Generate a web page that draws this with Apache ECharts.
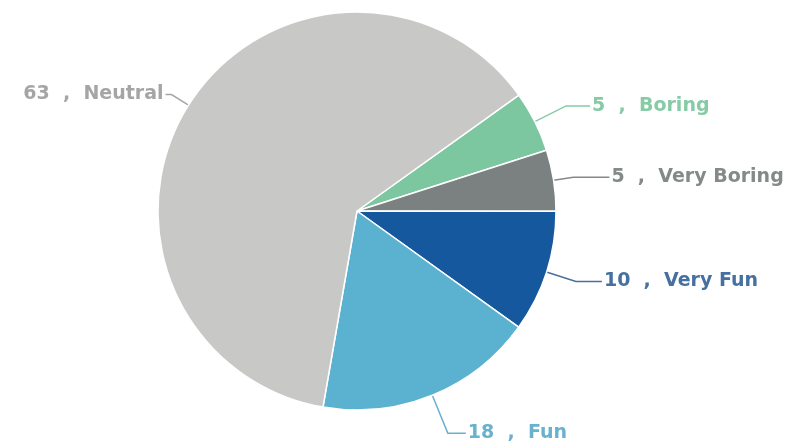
<!DOCTYPE html>
<html><head><meta charset="utf-8">
<script src="https://cdn.jsdelivr.net/npm/echarts@6/dist/echarts.min.js"></script>
<style>html,body{margin:0;padding:0;background:#fff}#c{width:801px;height:444px}</style>
</head><body><div id="c"></div>
<script>
const categories = ["Boring", "Very Boring", "Very Fun", "Fun", "Neutral"];
const values = [5, 5, 10, 18, 63];
const colors = ["#7cc7a0", "#7b8180", "#16589e", "#5bb1d0", "#c8c9c7"];
const labelColors = ["#86cba6", "#84898a", "#46709f", "#69b2cd", "#a4a6a4"];
const lineLen = [[35, 24], [20, 36], [31, 26], [41, 18], [20, 6]];

const chart = echarts.init(document.getElementById('c'));
chart.setOption({
  animation: false,
  series: [{
    type: 'pie',
    center: [357, 211],
    radius: 199,
    startAngle: 35.6,
    clockwise: true,
    itemStyle: { borderColor: '#ffffff', borderWidth: 1.5 },
    label: {
      show: true,
      fontFamily: 'DejaVu Sans',
      fontSize: 19,
      fontWeight: 'bold',
      distanceToLabelLine: 2,
      formatter: p => p.value + '  ,  ' + p.name
    },
    labelLine: { show: true, lineStyle: { width: 1.5 } },
    data: categories.map((n, i) => ({
      name: n,
      value: values[i],
      itemStyle: { color: colors[i] },
      label: { color: labelColors[i] },
      labelLine: { length: lineLen[i][0], length2: lineLen[i][1], lineStyle: { color: labelColors[i] } }
    }))
  }]
});
</script></body></html>
